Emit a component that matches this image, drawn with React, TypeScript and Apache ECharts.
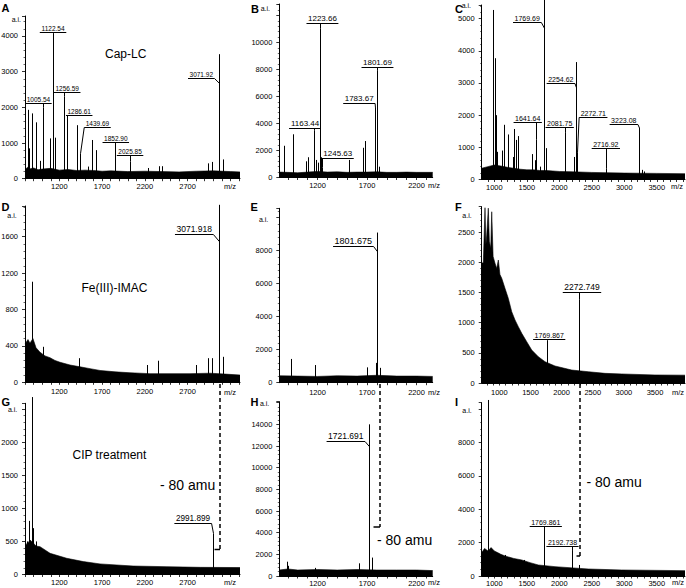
import React, { useEffect, useRef } from "react";
import * as echarts from "echarts";

const FONT = '"Liberation Sans", Arial, Helvetica, sans-serif';

// ---------------- tick labels ----------------
const xLabelsADG = [1200, 1700, 2200, 2700];
const xLabelsBEH = [1200, 1700, 2200];
const xLabelsCFI = [1000, 1500, 2000, 2500, 3000, 3500];
const yLabelsA = [0, 1000, 2000, 3000, 4000];
const yLabelsB = [0, 2000, 4000, 6000, 8000, 10000];
const yLabelsC = [0, 1000, 2000, 3000, 4000, 5000];
const yLabelsD = [0, 400, 800, 1200, 1600];
const yLabelsE = [0, 2000, 4000, 6000, 8000];
const yLabelsF = [0, 500, 1000, 1500, 2000, 2500];
const yLabelsG = [0, 500, 1000, 1500, 2000];
const yLabelsH = [0, 2000, 4000, 6000, 8000, 10000, 12000, 14000];
const yLabelsI = [0, 2000, 4000, 6000, 8000];

// ---------------- Panel A (Cap-LC, sample 1) ----------------
const peaksA = [[830,1930],[849,850],[884,1830],[927,1580],[974,500],[1005.54,2000],[1091,1130],[1122.54,4080],[1149,1150],[1256.59,2300],[1286.61,1700],[1403,1500],[1439.69,700],[1539,340],[1579,1085],[1629,800],[1852.90,1000],[2025.85,480],[2234,300],[2367,350],[2401,350],[2943,430],[2983,470],[3071.92,3490],[3111,540]];
const noiseA = [[798,260],[830,320],[860,280],[900,300],[950,250],[1000,270],[1100,290],[1200,240],[1300,260],[1400,230],[1500,240],[1600,230],[1700,210],[1800,220],[2000,200],[2200,210],[2400,200],[2600,190],[2800,210],[3000,220],[3200,200],[3313,190]];
const labelsA = ["1005.54","1122.54","1256.59","1286.61","1439.69","1852.90","2025.85","3071.92"];
const labelPeaksA = [[1005.54,2000],[1122.54,4080],[1256.59,2300],[1286.61,1700],[1439.69,700],[1852.90,1000],[2025.85,480],[3071.92,2670]];

// ---------------- Panel B ----------------
const peaksB = [[860,2350],[957,3200],[1084,1200],[1104,1500],[1163.44,3500],[1180,1300],[1200,1100],[1223.66,11050],[1235,1500],[1245.63,750],[1518,1300],[1663,2200],[1681,2700],[1783.67,5150],[1801.69,7900],[1820,800]];
const noiseB = [[814,400],[900,380],[1000,350],[1100,400],[1200,450],[1300,400],[1400,420],[1500,380],[1600,400],[1700,400],[1800,420],[1900,380],[2000,380],[2100,400],[2200,380],[2364,380]];
const labelsB = ["1163.44","1223.66","1245.63","1783.67","1801.69"];
const labelPeaksB = [[1163.44,3500],[1223.66,11050],[1245.63,750],[1783.67,5150],[1801.69,7900]];

// ---------------- Panel C ----------------
const peaksC = [[985,5270],[1011,3770],[1026,2000],[1046,860],[1114,900],[1154,1700],[1206,1400],[1283,700],[1308,1570],[1334,1230],[1369,1350],[1585,790],[1626,600],[1641.64,1250],[1703,400],[1769.69,5600],[1790,975],[2081.75,1450],[2226,700],[2254.62,3650],[2272.71,850],[2716.92,350],[3223.08,1600],[3268,300],[3300,250]];
const noiseC = [[806,350],[900,400],[1000,450],[1100,420],[1200,380],[1300,350],[1400,320],[1500,300],[1600,300],[1700,280],[1800,280],[2000,250],[2200,240],[2500,220],[3000,200],[3500,190],[3934,180]];
const labelsC = ["1769.69","1641.64","2081.75","2254.62","2272.71","2716.92","3223.08"];
const labelPeaksC = [[1769.69,4700],[1641.64,1250],[2081.75,1450],[2254.62,2850],[2272.71,850],[2716.92,350],[3223.08,1600]];

// ---------------- Panel D (Fe(III)-IMAC) ----------------
const peaksD = [[884,1105],[1005,390],[1434,265],[2222,190],[2350,237],[2798,190],[2942,265],[2982,265],[3071.918,1950],[3111,280]];
const noiseD = [[798,420],[833,470],[856,430],[891,480],[927,380],[974,330],[1032,290],[1091,270],[1149,240],[1208,220],[1325,190],[1442,170],[1559,150],[1676,130],[1851,115],[2026,105],[2260,95],[2494,95],[2728,95],[2962,100],[3140,90],[3313,80]];
const labelsD = ["3071.918"];
const labelPeaksD = [[3071.918,1545]];

// ---------------- Panel E ----------------
const peaksE = [[929,1440],[1172,1070],[1697,930],[1790,1200],[1801.675,9100],[1831,900],[1955,400]];
const noiseE = [[814,420],[1000,400],[1200,380],[1400,420],[1600,400],[1800,450],[2000,400],[2200,400],[2364,380]];
const labelsE = ["1801.675"];
const labelPeaksE = [[1801.675,7940]];

// ---------------- Panel F ----------------
const peaksF = [[1039,1430],[1769.867,700],[2272.749,1390]];
const noiseF = [[717,1985],[743,2000],[770,2907],[785,2300],[798,2455],[823,2900],[840,2350],[862,2234],[878,2840],[900,2100],[931,1985],[958,1900],[984,2040],[1010,1800],[1039,1736],[1091,1570],[1144,1405],[1199,1182],[1252,1045],[1305,934],[1360,824],[1440,685],[1520,547],[1626,436],[1734,353],[1894,282],[2162,215],[2429,187],[2697,160],[2965,150],[3499,133],[3981,130]];
const labelsF = ["1769.867","2272.749"];
const labelPeaksF = [[1769.867,700],[2272.749,1390]];

// ---------------- Panel G (CIP treatment) ----------------
const peaksG = [[818,500],[849,810],[884,2680],[896,700],[927,500],[2991.899,620]];
const noiseG = [[798,500],[818,450],[857,520],[892,480],[927,430],[974,420],[1091,320],[1286,245],[1480,195],[1676,160],[2062,128],[2459,118],[2851,108],[3313,105]];
const labelsG = ["2991.899"];
const labelPeaksG = [[2991.899,620]];

// ---------------- Panel H ----------------
const peaksH = [[889,1320],[905,940],[1175,750],[1619,1170],[1721.691,14000],[1747,1700]];
const noiseH = [[814,550],[900,650],[1000,550],[1200,600],[1400,550],[1600,600],[1800,550],[2000,550],[2200,550],[2364,500]];
const labelsH = ["1721.691"];
const labelPeaksH = [[1721.691,11940]];

// ---------------- Panel I ----------------
const peaksI = [[898,10540],[1165,1260],[1345,960],[1457,960],[1626,660],[1769.861,2950],[2192.738,1500],[2303,660]];
const noiseI = [[806,1400],[850,1650],[903,1500],[950,1700],[1000,1500],[1050,1400],[1100,1300],[1165,1200],[1300,1050],[1422,960],[1550,800],[1677,660],[1934,560],[2446,420],[2960,360],[3934,320]];
const labelsI = ["1769.861","2192.738"];
const labelPeaksI = [[1769.861,2950],[2192.738,1500]];

// ---------------- layout (placement of label boxes, in data units) ----------------
const spotsA = [[955,2114],[1126,4113],[1292,2422],[1432,1786],[1646,1458],[1860,1037],[2027,664],[2860,2815]];
const spotsB = [[1074,3644],[1250,11420],[1405,1422],[1621,5496],[1806,8207]];
const spotsC = [[1506,4905],[1514,1797],[2006,1623],[2023,2990],[2523,1952],[2716,970],[2992,1725]];
const spotsD = [[2777,1630]];
const spotsE = [[1562,8303]];
const spotsF = [[1801,730],[2327,1514]];
const spotsG = [[2763,782]];
const spotsH = [[1486,12490]];
const spotsI = [[1792,3012],[2049,1814]];

const panels = [
  { box: [25, 16, 240, 178.7], x: [798, 3313], yMax: 4560, yInt: 1000, yl: yLabelsA, xl: xLabelsADG, xm: 4, peaks: peaksA, noise: noiseA, labels: labelsA, lp: labelPeaksA, sp: spotsA, fonts: [6.5,6.5,6.5,6.5,6.5,6.5,6.5,6.5] },
  { box: [279.3, 4, 432.7, 177.5], x: [814, 2364], yMax: 12850, yInt: 2000, yl: yLabelsB, xl: xLabelsBEH, xm: 4, peaks: peaksB, noise: noiseB, labels: labelsB, lp: labelPeaksB, sp: spotsB, fonts: [8,8,8,8,8] },
  { box: [481.7, 5, 685, 179.5], x: [806, 3934], yMax: 5424, yInt: 1000, yl: yLabelsC, xl: xLabelsCFI, xm: 4, peaks: peaksC, noise: noiseC, labels: labelsC, lp: labelPeaksC, sp: spotsC, fonts: [7,7,7,7,7,7,7] },
  { box: [25, 206, 240, 382.3], x: [798, 3313], yMax: 1937, yInt: 400, yl: yLabelsD, xl: xLabelsADG, xm: 5.5, peaks: peaksD, noise: noiseD, labels: labelsD, lp: labelPeaksD, sp: spotsD, fonts: [8.5] },
  { box: [279.3, 208.3, 432.7, 382.7], x: [814, 2364], yMax: 10570, yInt: 2000, yl: yLabelsE, xl: xLabelsBEH, xm: 5.5, peaks: peaksE, noise: noiseE, labels: labelsE, lp: labelPeaksE, sp: spotsE, fonts: [9] },
  { box: [481.7, 206.7, 685, 383], x: [717, 3981], yMax: 2924, yInt: 500, yl: yLabelsF, xl: xLabelsCFI, xm: 5.5, peaks: peaksF, noise: noiseF, labels: labelsF, lp: labelPeaksF, sp: spotsF, fonts: [7, 8.5] },
  { box: [25, 403.3, 240, 574.5], x: [798, 3313], yMax: 2586, yInt: 500, yl: yLabelsG, xl: xLabelsADG, xm: 3.5, peaks: peaksG, noise: noiseG, labels: labelsG, lp: labelPeaksG, sp: spotsG, fonts: [8.2] },
  { box: [279.3, 401.7, 432.7, 576], x: [814, 2364], yMax: 16090, yInt: 2000, yl: yLabelsH, xl: xLabelsBEH, xm: 3, peaks: peaksH, noise: noiseH, labels: labelsH, lp: labelPeaksH, sp: spotsH, fonts: [8.5] },
  { box: [481.7, 402.7, 685, 576], x: [806, 3934], yMax: 10377, yInt: 2000, yl: yLabelsI, xl: xLabelsCFI, xm: 3, peaks: peaksI, noise: noiseI, labels: labelsI, lp: labelPeaksI, sp: spotsI, fonts: [7, 7] },
];

function hundreds(min: number, max: number) {
  const out: number[] = [];
  for (let v = Math.ceil(min / 100) * 100; v <= max; v += 100) out.push(v);
  return out;
}

function textWidth(t: string, fs: number) {
  let w = 0;
  for (const ch of t) w += ch === "." ? 0.278 : 0.556;
  return w * fs;
}

function txt(x: number, y: number, text: string, fontSize: number, align = "left", vAlign = "middle", bold = false) {
  return {
    type: "text", x, y, silent: true,
    style: { text, fontSize, fontFamily: FONT, fontWeight: bold ? "bold" : "normal", fill: "#000", align, verticalAlign: vAlign, textAlign: align, textVerticalAlign: vAlign },
  };
}

function dashed(x1: number, y1: number, x2: number, y2: number) {
  return { type: "line", silent: true, shape: { x1, y1, x2, y2 }, style: { stroke: "#000", lineWidth: 1.5, lineDash: [4, 3] } };
}

function buildOption() {
  const grid: any[] = [];
  const xAxis: any[] = [];
  const yAxis: any[] = [];
  const series: any[] = [];

  panels.forEach((p, i) => {
    const [l, t, r, b] = p.box;
    grid.push({ left: l, top: t, width: r - l, height: b - t, containLabel: false, outerBoundsMode: "none" });
    xAxis.push({
      gridIndex: i, type: "value", min: p.x[0], max: p.x[1],
      axisLine: { show: true, onZero: false, lineStyle: { color: "#000", width: 1 } },
      axisTick: { show: true, customValues: hundreds(p.x[0], p.x[1]), length: 2.5, lineStyle: { color: "#000", width: 0.8 } },
      axisLabel: { customValues: p.xl, fontSize: 7.5, fontFamily: FONT, color: "#000", margin: p.xm, formatter: (v: number) => String(Math.round(v)) },
      splitLine: { show: false },
    });
    yAxis.push({
      gridIndex: i, type: "value", min: 0, max: p.yMax, interval: p.yInt,
      axisLine: { show: true, lineStyle: { color: "#000", width: 1 } },
      axisTick: { show: true, length: 3, lineStyle: { color: "#000", width: 0.8 } },
      minorTick: { show: true, splitNumber: 5, length: 1.5, lineStyle: { color: "#000", width: 0.6 } },
      axisLabel: { customValues: p.yl, fontSize: 7.5, fontFamily: FONT, color: "#000", margin: 7, formatter: (v: number) => String(Math.round(v)) },
      splitLine: { show: false },
      minorSplitLine: { show: false },
    });
    series.push({
      type: "line", xAxisIndex: i, yAxisIndex: i, data: p.noise, symbol: "none", showSymbol: false, silent: true,
      lineStyle: { width: 0.6, color: "#000" }, areaStyle: { color: "#000", opacity: 1 }, z: 2,
    });
    series.push({
      type: "custom", xAxisIndex: i, yAxisIndex: i, data: p.peaks, silent: true, clip: false, z: 3,
      encode: { x: 0, y: 1 },
      renderItem: (_params: any, api: any) => {
        const p0 = api.coord([api.value(0), 0]);
        const p1 = api.coord([api.value(0), api.value(1)]);
        const x = Math.round(p0[0]) + 0.5;
        return { type: "line", shape: { x1: x, y1: p0[1], x2: x, y2: p1[1] }, style: { stroke: "#000", lineWidth: 1 } };
      },
    });
    const annData = p.lp.map((a, k) => [a[0], a[1], p.sp[k][0], p.sp[k][1]]);
    series.push({
      type: "custom", xAxisIndex: i, yAxisIndex: i, data: annData, silent: true, clip: false, z: 4,
      encode: { x: [0, 2], y: [1, 3] },
      renderItem: (params: any, api: any) => {
        const k = params.dataIndex;
        const text = p.labels[k];
        const fs = p.fonts[k];
        const peak = api.coord([api.value(0), api.value(1)]);
        const spot = api.coord([api.value(2), api.value(3)]);
        const px = Math.round(peak[0]) + 0.5;
        const half = textWidth(text, fs) / 2 + 1.5;
        const x1 = spot[0] - half;
        const x2 = spot[0] + half;
        const y = Math.round(spot[1]) + 0.5;
        const cx = Math.min(Math.max(px, x1), x2);
        return {
          type: "group",
          children: [
            { type: "line", shape: { x1, y1: y, x2, y2: y }, style: { stroke: "#000", lineWidth: 1 } },
            { type: "line", shape: { x1: cx, y1: y, x2: px, y2: peak[1] }, style: { stroke: "#000", lineWidth: 1 } },
            { type: "text", x: spot[0], y: y - 1, style: { text, fontSize: fs, fontFamily: FONT, fill: "#000", align: "center", verticalAlign: "bottom", textAlign: "center", textVerticalAlign: "bottom" } },
          ],
        };
      },
    });
  });

  const graphic: any[] = [
    // panel letters
    txt(1.5, 2, "A", 11, "left", "top", true),
    txt(251, 3, "B", 11, "left", "top", true),
    txt(455, 3, "C", 11, "left", "top", true),
    txt(1.5, 201, "D", 11, "left", "top", true),
    txt(250.5, 201, "E", 11, "left", "top", true),
    txt(455, 201, "F", 11, "left", "top", true),
    txt(1.5, 396, "G", 11, "left", "top", true),
    txt(250.5, 396, "H", 11, "left", "top", true),
    txt(455, 396, "I", 11, "left", "top", true),
    // a.i.
    txt(21, 19, "a.i.", 7, "right"),
    txt(270, 8.3, "a.i.", 7, "right"),
    txt(471, 5.5, "a.i.", 7, "right"),
    txt(16.7, 215, "a.i.", 7, "right"),
    txt(268.3, 219, "a.i.", 7, "right"),
    txt(471.7, 215, "a.i.", 7, "right"),
    txt(17.3, 409, "a.i.", 7, "right"),
    txt(269.3, 403, "a.i.", 7, "right"),
    txt(471.7, 410, "a.i.", 7, "right"),
    // m/z
    txt(230, 186.5, "m/z", 7.5, "center"),
    txt(434, 185.5, "m/z", 7.5, "center"),
    txt(677, 186.5, "m/z", 7.5, "center"),
    txt(230, 392, "m/z", 7.5, "center"),
    txt(434, 392, "m/z", 7.5, "center"),
    txt(678, 392, "m/z", 7.5, "center"),
    txt(230, 582, "m/z", 7.5, "center"),
    txt(434, 582.5, "m/z", 7.5, "center"),
    txt(678, 582.5, "m/z", 7.5, "center"),
    // titles
    txt(105, 53.5, "Cap-LC", 12),
    txt(81.5, 288, "Fe(III)-IMAC", 12),
    txt(72.5, 455, "CIP treatment", 12),
    // -80 amu
    dashed(220, 384, 220, 549.5),
    { type: "line", silent: true, shape: { x1: 214.5, y1: 549.5, x2: 220, y2: 549.5 }, style: { stroke: "#000", lineWidth: 1.5 } },
    txt(160, 484.5, "- 80 amu", 14),
    dashed(380, 384, 380, 527),
    { type: "line", silent: true, shape: { x1: 373.5, y1: 527, x2: 380, y2: 527 }, style: { stroke: "#000", lineWidth: 1.5 } },
    txt(377, 540, "- 80 amu", 14),
    dashed(580, 384, 580, 556),
    { type: "line", silent: true, shape: { x1: 576.5, y1: 556, x2: 580, y2: 556 }, style: { stroke: "#000", lineWidth: 1.5 } },
    txt(586.5, 482, "- 80 amu", 14),
  ];

  return {
    animation: false,
    backgroundColor: "#fff",
    grid, xAxis, yAxis, series, graphic,
  };
}

export default function App() {
  const ref = useRef<HTMLDivElement>(null);
  useEffect(() => {
    if (!ref.current) return;
    const chart = echarts.init(ref.current, undefined, { renderer: "svg" });
    chart.setOption(buildOption() as any);
    return () => chart.dispose();
  }, []);
  return <div ref={ref} style={{ position: "fixed", left: 0, top: 0, width: 686, height: 588, background: "#fff" }} />;
}
